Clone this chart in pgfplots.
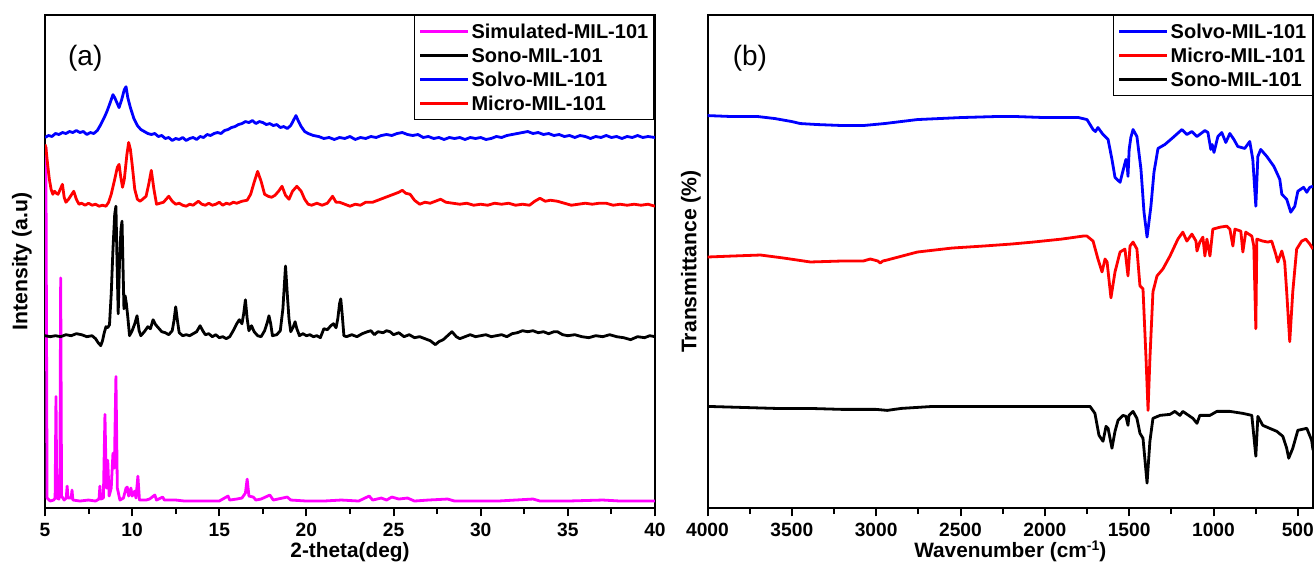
\documentclass[border=0pt]{standalone}
\usepackage{fontspec}
\setmainfont{Liberation Sans}
\usepackage{pgfplots}
\pgfplotsset{compat=1.18}
\definecolor{mag}{RGB}{255,0,255}
\definecolor{bl}{RGB}{0,0,255}
\definecolor{rd}{RGB}{255,0,0}
\pgfplotsset{
  myax/.style={
    scale only axis,
    anchor=south west,
    axis line style={line width=1pt},
    tick align=outside,
    xtick pos=left,
    ytick=\empty,
    major tick length=4.2pt,
    minor tick length=3pt,
    every tick/.style={line width=1pt, black},
    minor x tick num=1,
    ymin=0, ymax=495,
    /pgf/number format/assume math mode=true,
    /pgf/number format/1000 sep={},
    ticklabel style={font=\bfseries\fontsize{9.6}{11}\selectfont},
    xticklabel style={inner sep=0.5pt},
    xticklabel shift=2.5pt,
    xlabel style={font=\bfseries\fontsize{10.4}{12}\selectfont, anchor=base, inner sep=0pt},
    ylabel style={font=\bfseries\fontsize{10.6}{12}\selectfont, anchor=center, rotate=0},
    legend cell align=left,
    legend style={at={(rel axis cs:1,1)}, anchor=north east, draw=black, line width=0.75pt,
      font=\bfseries\fontsize{10}{12}\selectfont, inner sep=2pt, row sep=0pt,
      nodes={inner sep=1pt, text height=8.3pt, text depth=1.7pt},
      /tikz/every even column/.append style={column sep=1pt}},
    legend image code/.code={\draw[#1, line width=1.5pt] (0pt,0pt) -- (24pt,0pt);},
    every axis plot/.append style={line width=1.4pt, line join=round},
  }
}
\begin{document}
\begin{tikzpicture}
\useasboundingbox (0,0) rectangle (658pt,281pt);
% ---------------- (a) XRD ----------------
\begin{axis}[myax, at={(22.5pt,27pt)}, width=305pt, height=246.5pt,
  xmin=5, xmax=40, xtick={5,10,...,40},
  xlabel={2-theta(deg)}, ylabel={Intensity (a.u)},
  xlabel style={at={(axis description cs:0.5,-0.100)}},
  ylabel style={at={(axis description cs:-0.0377,0.5)}}]
\addplot[mag] coordinates {
(5.0,362) (5.05,362) (5.12,10) (5.3,7) (5.5,8) (5.58,10) (5.63,112) (5.68,10) (5.8,9) (5.85,12) (5.9,231) (5.95,12) (6.1,8) (6.22,10) (6.27,22) (6.32,10) (6.5,10) (6.55,18) (6.6,8) (7.0,7) (7.5,8) (7.9,7) (8.1,9) (8.15,22) (8.2,9) (8.35,10) (8.44,94) (8.52,20) (8.6,48) (8.68,12) (8.8,20) (8.9,55) (8.98,40) (9.07,132) (9.15,20) (9.3,8) (9.5,10) (9.65,20) (9.72,21) (9.8,12) (9.93,20) (10.0,12) (10.15,17) (10.22,10) (10.33,32) (10.42,8) (10.8,8) (11.0,9) (11.3,13) (11.4,8) (11.75,11) (11.85,8) (12.5,8) (13.0,7) (14.0,7) (15.0,7) (15.5,12) (15.6,8) (16.0,9) (16.3,10) (16.5,15) (16.6,29) (16.7,12) (16.95,11) (17.1,8) (17.4,9) (17.9,13) (18.1,8) (18.9,11) (19.1,8) (20,7) (21,7) (22,8) (23,7) (23.6,12) (23.8,8) (24.3,10) (24.6,8) (24.9,11) (25.3,9) (25.8,10) (26.2,7) (27,8) (28.1,9) (28.5,7) (30,7) (31,7) (33.0,9) (33.4,7) (35,7) (37,8) (38,7) (40,7)
};
\addlegendentry{Simulated-MIL-101}
\addplot[black] coordinates {
(5.0,173) (5.3,172) (5.6,173) (5.9,172) (6.2,174) (6.5,173) (6.8,175) (7.1,174) (7.4,172) (7.7,173) (7.9,170) (8.05,166) (8.2,163) (8.3,168) (8.4,176) (8.5,182) (8.6,181) (8.7,184) (8.8,215) (8.9,260) (9.0,295) (9.07,303) (9.13,250) (9.2,195) (9.28,250) (9.36,280) (9.42,288) (9.48,240) (9.53,200) (9.6,213) (9.67,205) (9.75,192) (9.85,173) (10.0,178) (10.15,185) (10.28,193) (10.4,178) (10.5,173) (10.7,177) (10.9,182) (11.05,180) (11.2,189) (11.35,184) (11.5,181) (11.7,177) (11.9,176) (12.1,174) (12.3,178) (12.4,188) (12.5,202) (12.6,188) (12.7,176) (12.9,173) (13.1,174) (13.3,173) (13.5,175) (13.7,177) (13.9,183) (14.05,178) (14.2,174) (14.4,175) (14.6,172) (14.8,174) (15.0,171) (15.2,172) (15.4,170) (15.6,172) (15.8,178) (16.0,185) (16.15,189) (16.3,185) (16.4,195) (16.5,209) (16.6,190) (16.7,178) (16.85,183) (17.0,177) (17.2,173) (17.4,172) (17.6,178) (17.75,186) (17.85,193) (17.95,185) (18.05,173) (18.3,174) (18.5,178) (18.65,200) (18.8,243) (18.92,210) (19.0,190) (19.1,177) (19.25,182) (19.35,187) (19.45,180) (19.6,173) (19.8,175) (20.0,173) (20.2,174) (20.4,172) (20.6,173) (20.8,171) (21.0,180) (21.2,179) (21.4,183) (21.55,185) (21.7,181) (21.8,190) (21.9,205) (21.97,210) (22.05,195) (22.15,173) (22.3,172) (22.6,174) (22.9,172) (23.2,175) (23.5,177) (23.7,178) (23.9,174) (24.1,177) (24.4,176) (24.6,178) (24.8,177) (25.0,174) (25.3,176) (25.6,172) (25.9,174) (26.2,171) (26.5,172) (26.8,170) (27.1,168) (27.4,164) (27.6,167) (27.85,169) (28.1,173) (28.35,177) (28.6,172) (28.8,170) (29.1,172) (29.4,174) (29.7,172) (30.0,173) (30.3,174) (30.6,172) (30.9,173) (31.2,174) (31.5,172) (31.8,175) (32.1,176) (32.4,178) (32.7,177) (33.0,178) (33.3,176) (33.6,177) (33.9,175) (34.2,177) (34.4,177) (34.7,174) (35.0,173) (35.4,174) (35.8,172) (36.2,171) (36.6,173) (37.0,172) (37.4,174) (37.8,172) (38.2,171) (38.6,169) (39.0,172) (39.4,171) (39.7,173) (40.0,172)
};
\addlegendentry{Sono-MIL-101}
\addplot[bl] coordinates {
(5.0,372) (5.2,374) (5.4,373) (5.6,376) (5.8,375) (6.0,377) (6.2,376) (6.4,378) (6.6,377) (6.8,379) (7.0,377) (7.2,378) (7.4,375) (7.6,377) (7.8,376) (8.0,379) (8.2,385) (8.4,392) (8.55,398) (8.7,405) (8.8,410) (8.9,415) (9.0,412) (9.1,408) (9.25,402) (9.4,410) (9.55,420) (9.65,423) (9.75,412) (9.9,402) (10.1,391) (10.3,384) (10.5,380) (10.7,378) (10.9,376) (11.1,375) (11.3,376) (11.5,373) (11.7,374) (11.9,371) (12.1,372) (12.3,369) (12.5,371) (12.7,370) (12.9,372) (13.1,369) (13.3,371) (13.5,372) (13.7,370) (13.9,373) (14.1,372) (14.3,375) (14.5,374) (14.7,376) (14.9,377) (15.1,376) (15.3,379) (15.5,380) (15.7,382) (15.9,383) (16.1,385) (16.3,386) (16.5,388) (16.7,387) (16.9,389) (17.1,386) (17.3,388) (17.5,387) (17.7,385) (17.9,386) (18.1,384) (18.3,385) (18.5,382) (18.7,383) (18.9,381) (19.1,384) (19.25,389) (19.4,394) (19.55,388) (19.7,383) (19.9,378) (20.1,376) (20.4,374) (20.7,373) (21.0,371) (21.3,372) (21.6,370) (21.9,372) (22.2,371) (22.5,373) (22.8,370) (23.1,372) (23.4,371) (23.7,373) (24.0,372) (24.3,374) (24.6,375) (24.9,374) (25.2,376) (25.5,377) (25.8,375) (26.1,374) (26.4,375) (26.7,372) (27.0,373) (27.3,371) (27.6,372) (27.9,370) (28.2,372) (28.5,371) (28.8,372) (29.1,370) (29.4,372) (29.7,371) (30.0,372) (30.3,370) (30.6,371) (30.9,373) (31.2,372) (31.5,374) (31.8,375) (32.1,376) (32.4,377) (32.7,378) (33.0,376) (33.3,377) (33.6,375) (33.9,376) (34.2,374) (34.5,375) (34.8,373) (35.1,374) (35.4,372) (35.7,374) (36.0,373) (36.3,371) (36.6,373) (36.9,372) (37.2,374) (37.5,372) (37.8,373) (38.1,371) (38.4,373) (38.7,372) (39.0,374) (39.3,372) (39.6,373) (40.0,372)
};
\addlegendentry{Solvo-MIL-101}
\addplot[rd] coordinates {
(5.0,365) (5.05,362) (5.15,345) (5.25,330) (5.35,320) (5.45,315) (5.55,318) (5.65,316) (5.75,315) (5.85,319) (6.0,325) (6.1,312) (6.2,307) (6.35,310) (6.5,314) (6.65,318) (6.8,310) (6.95,305) (7.1,306) (7.3,304) (7.5,306) (7.7,304) (7.9,305) (8.1,303) (8.3,304) (8.5,303) (8.65,307) (8.8,315) (9.0,330) (9.15,342) (9.25,345) (9.35,332) (9.45,322) (9.55,330) (9.7,355) (9.8,367) (9.9,360) (10.0,345) (10.15,320) (10.3,310) (10.45,308) (10.6,310) (10.8,313) (10.95,325) (11.1,339) (11.25,320) (11.4,305) (11.6,306) (11.8,307) (12.0,311) (12.1,313) (12.3,308) (12.5,305) (12.7,306) (12.9,304) (13.1,303) (13.3,305) (13.5,304) (13.8,308) (14.0,305) (14.2,304) (14.4,306) (14.6,304) (14.8,305) (15.0,307) (15.2,304) (15.4,306) (15.6,305) (15.8,307) (16.0,306) (16.3,308) (16.6,309) (16.8,315) (17.0,327) (17.2,338) (17.4,328) (17.6,315) (17.8,313) (18.0,312) (18.2,314) (18.4,318) (18.6,323) (18.8,314) (19.0,310) (19.2,318) (19.45,323) (19.7,318) (19.9,310) (20.1,305) (20.3,304) (20.6,306) (20.9,304) (21.2,306) (21.5,313) (21.7,307) (21.9,307) (22.2,305) (22.5,303) (22.8,305) (23.1,304) (23.4,307) (23.8,307) (24.1,309) (24.4,311) (24.7,313) (25.0,315) (25.3,317) (25.5,319) (25.7,316) (25.95,315) (26.2,309) (26.5,305) (26.8,307) (27.1,306) (27.4,308) (27.7,310) (28.0,307) (28.4,306) (28.8,305) (29.2,306) (29.6,304) (30.0,305) (30.4,304) (30.8,306) (31.2,305) (31.6,306) (32.0,304) (32.4,305) (32.8,304) (33.1,308) (33.4,311) (33.7,308) (34.0,309) (34.4,308) (34.8,306) (35.2,304) (35.6,305) (36.0,306) (36.4,305) (36.8,306) (37.2,306) (37.6,304) (38.0,305) (38.4,304) (38.8,305) (39.2,304) (39.6,305) (40.0,303)
};
\addlegendentry{Micro-MIL-101}
\node[font=\fontsize{14}{16}\selectfont] at (rel axis cs:0.066,0.913) {(a)};
\end{axis}
% ---------------- (b) FTIR ----------------
\begin{axis}[myax, at={(353.75pt,27pt)}, width=302.75pt, height=246.5pt,
  x dir=reverse, xmin=410, xmax=4000, xtick={500,1000,...,4000},
  xlabel={Wavenumber (cm\raisebox{0.6ex}{\fontsize{7}{8}\selectfont -1})}, ylabel={Transmittance (\%)},
  xlabel style={at={(axis description cs:0.5,-0.100)}},
  ylabel style={at={(axis description cs:-0.0274,0.5)}}]
\addplot[bl] coordinates {
(4000,394) (3850,393) (3700,393) (3600,391) (3500,388) (3450,386) (3350,385) (3200,384) (3076,384) (2950,386) (2756,390) (2500,392) (2300,393) (2164,393) (2000,392) (1900,392) (1800,392) (1750,390) (1714,380) (1700,378) (1685,382) (1655,375) (1625,370) (1602,350) (1584,332) (1554,327) (1530,343) (1519,350) (1512,345) (1507,333) (1500,360) (1490,372) (1477,380) (1454,373) (1430,340) (1412,297) (1394,272) (1371,303) (1353,337) (1329,361) (1288,365) (1240,372) (1187,380) (1158,375) (1128,378) (1098,373) (1051,379) (1033,377) (1016,360) (1008,365) (997,357) (974,373) (951,377) (927,367) (903,376) (879,370) (856,363) (815,361) (785,368) (767,350) (749,303) (737,353) (720,360) (684,353) (642,343) (607,330) (595,315) (566,310) (542,297) (518,303) (500,318) (466,322) (447,317) (429,322) (410,323)
};
\addlegendentry{Solvo-MIL-101}
\addplot[rd] coordinates {
(4000,252) (3850,253) (3686,254) (3550,251) (3390,247) (3200,248) (3076,248) (3035,250) (2990,248) (2976,246) (2960,248) (2935,249) (2756,257) (2550,261) (2366,263) (2200,265) (2070,267) (1900,270) (1774,273) (1750,273) (1714,268) (1685,250) (1661,237) (1643,250) (1631,247) (1608,211) (1584,237) (1554,257) (1525,260) (1507,233) (1495,263) (1477,267) (1454,260) (1436,223) (1418,220) (1400,150) (1388,98) (1377,150) (1359,217) (1335,233) (1300,240) (1258,253) (1211,270) (1182,277) (1158,268) (1128,275) (1104,268) (1098,258) (1081,267) (1063,272) (1051,253) (1039,270) (1021,253) (1004,280) (960,282) (921,283) (903,280) (885,263) (873,280) (838,278) (826,257) (809,277) (773,273) (761,263) (749,180) (743,270) (708,268) (678,267) (655,268) (631,255) (619,247) (595,258) (578,247) (566,217) (548,167) (530,217) (507,260) (477,268) (453,270) (429,265) (410,260)
};
\addlegendentry{Micro-MIL-101}
\addplot[black] coordinates {
(4000,102) (3800,101) (3600,100) (3400,100) (3200,99) (3000,99) (2935,98) (2850,100) (2662,102) (2400,102) (2200,102) (2000,102) (1800,102) (1732,102) (1703,95) (1679,73) (1655,67) (1637,82) (1625,80) (1602,60) (1584,77) (1566,88) (1537,93) (1519,92) (1507,83) (1501,93) (1477,97) (1454,90) (1436,75) (1418,70) (1394,25) (1377,67) (1359,90) (1317,93) (1258,94) (1229,97) (1199,93) (1182,97) (1122,90) (1098,85) (1081,93) (1021,93) (980,97) (903,97) (826,95) (773,93) (749,52) (737,92) (708,83) (667,80) (625,77) (589,72) (566,60) (554,50) (530,60) (500,78) (447,80) (418,68) (410,58)
};
\addlegendentry{Sono-MIL-101}
\node[font=\fontsize{14}{16}\selectfont] at (rel axis cs:0.070,0.913) {(b)};
\end{axis}
\end{tikzpicture}
\end{document}
